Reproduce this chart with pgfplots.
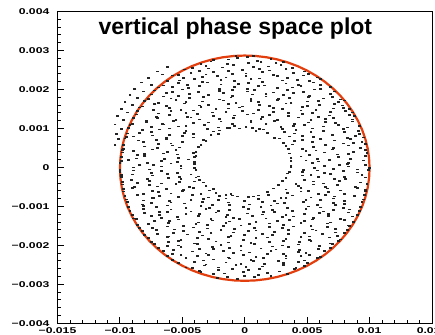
\documentclass[border=0pt]{standalone}
\usepackage{fontspec}
\setmainfont{Liberation Sans}
\newfontfamily\tickfont[FakeStretch=1.45]{Liberation Sans}
\usepackage{pgfplots}
\pgfplotsset{compat=1.18}
\definecolor{fitred}{RGB}{226,62,14}
\definecolor{dotc}{RGB}{35,35,35}
\begin{document}
\begin{tikzpicture}
\begin{axis}[
  at={(0,0)}, anchor=south west, scale only axis,
  width=374.5bp, height=311.8bp,
  xmin=-150, xmax=150, ymin=-400, ymax=400,
  xtick={-150,-100,-50,0,50,100,150},
  xticklabels={−0.015,−0.01,−0.005,0,0.005,0.01,0.015},
  ytick={-400,-300,-200,-100,0,100,200,300,400},
  yticklabels={−0.004,−0.003,−0.002,−0.001,0,0.001,0.002,0.003,0.004},
  minor x tick num=4, minor y tick num=4,
  tick align=inside, xtick pos=left, ytick pos=left,
  major tick length=6bp, minor tick length=3bp,
  every tick/.style={black, line width=0.9bp},
  axis line style={line width=1bp, black},
  tick label style={font=\tickfont\bfseries\fontsize{8.4bp}{9bp}\selectfont},
  yticklabel style={anchor=east, inner sep=0pt, xshift=-8bp},
  xticklabel style={anchor=north, inner sep=0pt, yshift=-4.5bp},
]
\addplot[only marks, mark=-, mark size=1.4bp, color=dotc, mark options={line width=1.7bp}] coordinates {
(-7,286) (2,283) (7,285)
(-25,276) (-13,277) (-6,280) (10,273) (21,278)
(-35,266) (-27,272) (-14,265) (3,268) (13,270) (25,267) (31,271)
(-42,255) (-31,261) (-18,256) (-9,263) (7,258) (19,259) (29,262) (38,255)
(-48,251) (-36,248) (-29,254) (-13,247) (-2,250) (12,252) (20,249) (33,253) (48,246)
(-53,237) (-43,243) (-31,238) (-25,245) (-10,240) (1,241) (14,244) (23,237) (39,242) (51,239)
(-58,236) (-49,229) (-34,232) (-22,234) (-15,231) (1,235) (12,228) (26,234) (34,229) (47,236) (58,231)
(-62,222) (-52,223) (-40,226) (-34,219) (-19,224) (-8,221) (5,227) (14,220) (30,223) (42,225) (52,222) (61,226)
(-65,210) (-53,216) (-46,211) (-30,218) (-19,213) (-5,214) (3,217) (16,210) (33,215) (43,212) (55,218) (61,211)
(-69,205) (-58,207) (-45,204) (-36,208) (-20,201) (-8,207) (2,202) (11,209) (26,204) (38,205) (45,208) (61,201) (69,206)
(-72,197) (-58,194) (-50,200) (-37,193) (-20,196) (-10,198) (2,195) (8,199) (23,192) (34,198) (47,193) (56,200) (72,195)
(-75,187) (-63,190) (-53,183) (-44,188) (-29,185) (-17,191) (-10,184) (6,187) (17,189) (31,186) (39,190) (52,183) (69,189)
(-77,175) (-65,182) (-59,177) (-44,178) (-33,181) (-20,174) (-11,179) (5,176) (17,182) (27,175) (36,178) (51,180) (63,177) (70,181) (77,174)
(-80,171) (-69,166) (-55,173) (-47,168) (-34,169) (-17,172) (-7,165) (5,170) (11,167) (26,173) (37,166) (50,169) (59,171) (75,168) (80,172)
(-82,156) (-72,162) (-63,157) (-48,164) (-36,159) (-29,160) (-13,163) (-2,156) (12,161) (20,158) (33,164) (50,157) (60,160) (72,162) (78,159)
(-84,154) (-73,147) (-60,153) (-51,148) (-35,155) (-23,150) (-13,151) (-4,154) (11,147) (23,152) (30,149) (46,155) (57,148) (71,151) (79,153) (84,150)
(-86,145) (-69,138) (-59,144) (-47,139) (-41,146) (-26,141) (-15,142) (-2,145) (7,138) (23,143) (35,140) (45,146) (54,139) (69,142) (81,144) (86,141)
(-87,136) (-71,129) (-60,135) (-46,130) (-38,137) (-25,132) (-8,133) (2,136) (14,129) (20,134) (35,131) (46,137) (59,130) (68,133) (84,135) (88,132)
(-89,127) (-79,120) (-70,126) (-55,121) (-43,128) (-36,123) (-20,124) (-9,127) (5,120) (13,125) (26,122) (43,128) (53,121) (65,124) (71,126) (86,123)
(-90,111) (-79,117) (-66,112) (-57,119) (-41,114) (-29,115) (-19,118) (-10,111) (5,116) (17,113) (24,119) (40,112) (51,115) (65,117) (73,114) (86,118)
(-92,108) (-75,103) (-65,110) (-53,105) (-47,106) (-32,109) (-21,102) (-8,107) (1,104) (17,110) (29,103) (39,106) (48,108) (63,105) (75,109) (82,102) (92,106)
(-14,101) (-4,100) (6,101) (12,99)
(-93,101) (-82,96) (-68,97) (-60,100) (-47,93) (-30,98) (-20,95) (-12,101) (9,94) (15,97) (30,99) (41,96) (54,100) (63,93) (79,99) (91,94)
(-94,87) (-84,88) (-75,91) (-60,84) (-48,89) (-41,86) (-25,92) (-21,85) (18,88) (32,90) (40,87) (53,91) (70,84) (80,90) (92,85)
(-95,78) (-89,79) (-74,82) (-63,75) (-50,80) (-41,77) (-27,83) (24,76) (36,79) (46,81) (55,78) (70,82) (82,75) (89,81) (95,77)
(-96,74) (-85,69) (-71,70) (-63,73) (-50,66) (-33,71) (-31,68) (28,74) (40,67) (46,70) (61,72) (72,69) (85,73) (94,66)
(-97,58) (-81,65) (-69,60) (-59,61) (-50,64) (-35,57) (31,62) (38,59) (54,65) (65,58) (79,61) (87,63) (97,60)
(-97,48) (-80,54) (-70,49) (-58,56) (-52,51) (-37,52) (33,55) (46,48) (55,53) (71,50) (83,56) (93,49)
(-98,45) (-89,42) (-74,46) (-62,39) (-55,45) (-39,40) (35,47) (49,42) (57,43) (70,46) (87,39) (97,44)
(-98,38) (-86,31) (-80,34) (-65,36) (-54,33) (-41,37) (-39,30) (36,36) (52,31) (64,38) (74,33) (83,34) (98,37)
(-99,26) (-87,23) (-80,29) (-64,22) (-53,25) (-40,27) (37,24) (45,28) (58,21) (75,27) (85,22) (97,29)
(-99,16) (-93,19) (-78,12) (-67,17) (-54,14) (-45,20) (-40,13) (37,16) (49,18) (59,15) (68,19) (83,12) (95,18)
(-100,11) (-84,6) (-73,7) (-59,10) (-51,3) (-40,8) (37,5) (54,11) (64,4) (76,7) (82,9) (97,6)
(-100,-6) (-89,0) (-76,-5) (-67,2) (-51,-3) (-40,-2) (37,1) (47,-6) (56,-1) (71,-4) (83,2) (90,-5) (100,-2)
(-100,-12) (-89,-8) (-75,-15) (-67,-9) (-54,-14) (-39,-7) (36,-12) (46,-11) (58,-8) (64,-15) (79,-10) (90,-13) (99,-7)
(-99,-20) (-90,-18) (-74,-21) (-62,-17) (-52,-24) (-43,-18) (-37,-23) (34,-16) (46,-21) (53,-20) (69,-17) (80,-24) (94,-19)
(-99,-25) (-91,-32) (-78,-29) (-61,-27) (-51,-30) (-39,-26) (-36,-33) (33,-27) (48,-32) (59,-25) (72,-30) (81,-29) (97,-26)
(-98,-37) (-86,-40) (-76,-34) (-67,-41) (-52,-38) (-40,-36) (-33,-39) (30,-35) (41,-42) (55,-36) (63,-41) (76,-34) (93,-39)
(-98,-44) (-88,-51) (-76,-46) (-70,-49) (-55,-43) (-44,-50) (-31,-47) (27,-45) (43,-48) (55,-44) (65,-51) (74,-45) (89,-50) (98,-43)
(-97,-56) (-90,-53) (-74,-60) (-63,-55) (-49,-58) (-41,-52) (-28,-59) (-25,-56) (23,-54) (33,-57) (45,-53) (51,-60) (66,-54) (77,-59) (90,-52) (97,-57)
(-97,-62) (-81,-69) (-69,-64) (-59,-67) (-50,-61) (-35,-68) (-23,-65) (18,-63) (34,-66) (45,-62) (59,-69) (67,-63) (80,-68) (97,-61)
(-15,-71) (-6,-75) (3,-76) (11,-72) (-11,-68)
(-96,-74) (-86,-71) (-74,-78) (-68,-73) (-53,-76) (-42,-70) (-29,-77) (-20,-74) (-10,-72) (7,-75) (19,-71) (29,-78) (38,-72) (53,-77) (65,-70) (72,-75) (88,-74) (96,-71)
(-95,-82) (-81,-85) (-73,-79) (-60,-86) (-43,-83) (-33,-81) (-21,-84) (-15,-80) (0,-87) (11,-81) (24,-86) (33,-79) (49,-84) (61,-83) (71,-80) (80,-87) (95,-82)
(-94,-88) (-82,-95) (-75,-92) (-59,-90) (-48,-93) (-34,-89) (-26,-96) (-13,-90) (4,-95) (14,-88) (26,-93) (32,-92) (47,-89) (58,-96) (71,-91) (80,-94) (94,-88)
(-93,-101) (-81,-99) (-71,-102) (-62,-98) (-47,-105) (-35,-99) (-28,-104) (-12,-97) (-1,-102) (13,-101) (21,-98) (34,-105) (51,-100) (61,-103) (73,-97) (79,-104) (93,-101)
(-92,-111) (-81,-107) (-68,-114) (-59,-108) (-43,-113) (-31,-106) (-21,-111) (-12,-110) (3,-107) (15,-114) (22,-109) (38,-112) (49,-106) (63,-113) (71,-110) (84,-108) (92,-111)
(-90,-123) (-80,-117) (-68,-122) (-62,-115) (-47,-120) (-36,-119) (-23,-116) (-14,-123) (2,-118) (14,-121) (24,-115) (33,-122) (48,-119) (60,-117) (67,-120) (83,-116) (90,-123)
(-89,-131) (-75,-124) (-67,-129) (-54,-128) (-37,-125) (-27,-132) (-15,-127) (-9,-130) (6,-124) (17,-131) (30,-128) (39,-126) (55,-129) (67,-125) (77,-132) (86,-126)
(-87,-133) (-72,-138) (-60,-137) (-53,-134) (-37,-141) (-26,-136) (-12,-139) (-4,-133) (9,-140) (26,-137) (36,-135) (48,-138) (54,-134) (69,-141) (80,-135) (87,-140)
(-86,-147) (-77,-146) (-61,-143) (-49,-150) (-39,-145) (-30,-148) (-15,-142) (-3,-149) (4,-146) (20,-144) (31,-147) (45,-143) (53,-150) (66,-144) (83,-149)
(-84,-156) (-74,-155) (-62,-152) (-56,-159) (-41,-154) (-30,-157) (-17,-151) (-8,-158) (8,-155) (20,-153) (30,-156) (39,-152) (54,-159) (66,-153) (73,-158) (84,-151)
(-82,-164) (-71,-161) (-57,-168) (-49,-163) (-36,-166) (-19,-160) (-9,-167) (3,-164) (9,-162) (24,-165) (35,-161) (48,-168) (57,-162) (73,-167) (82,-160)
(-80,-173) (-70,-170) (-61,-177) (-46,-172) (-34,-175) (-27,-169) (-11,-176) (0,-173) (14,-171) (22,-174) (35,-170) (52,-177) (62,-171) (74,-176) (80,-169)
(-77,-182) (-62,-179) (-51,-186) (-38,-181) (-29,-184) (-13,-178) (-1,-185) (9,-182) (18,-180) (33,-183) (45,-179) (52,-186) (68,-180) (77,-185)
(-75,-192) (-61,-191) (-53,-188) (-40,-195) (-23,-190) (-13,-193) (-1,-187) (5,-194) (20,-191) (31,-189) (44,-192) (53,-188) (69,-195) (75,-189)
(-72,-196) (-62,-201) (-53,-200) (-38,-197) (-26,-204) (-19,-199) (-3,-202) (8,-196) (22,-203) (30,-200) (43,-198) (60,-201) (70,-197)
(-69,-207) (-57,-212) (-51,-205) (-36,-210) (-25,-209) (-12,-206) (-3,-213) (13,-208) (25,-211) (35,-205) (44,-212) (59,-209) (69,-207)
(-65,-215) (-58,-222) (-42,-216) (-31,-221) (-17,-214) (-9,-219) (4,-218) (21,-215) (31,-222) (43,-217) (49,-220) (64,-214)
(-62,-227) (-51,-225) (-38,-228) (-29,-224) (-13,-231) (-1,-225) (9,-230) (18,-223) (33,-228) (45,-227) (52,-224) (61,-230)
(-58,-238) (-47,-232) (-33,-239) (-25,-236) (-12,-234) (5,-237) (15,-233) (27,-240) (33,-234) (48,-239) (58,-232)
(-53,-245) (-40,-242) (-31,-249) (-15,-244) (-3,-247) (7,-241) (16,-248) (31,-245) (43,-243) (50,-246)
(-47,-257) (-32,-252) (-21,-257) (-7,-250) (1,-255) (14,-254) (31,-251) (41,-258) (48,-253)
(-42,-259) (-36,-266) (-21,-263) (-10,-261) (3,-264) (12,-260) (28,-267) (40,-261)
(-35,-268) (-25,-273) (-16,-272) (-1,-269) (11,-276) (18,-271) (34,-274)
(-22,-283) (-14,-281) (0,-279) (8,-282) (21,-278) (-6,-287)
(-62,258) (-70,246) (-66,238) (-77,230) (-83,218) (-75,212) (-88,202) (-81,195) (-92,186) (-86,178)
(-96,168) (-90,160) (-99,150) (-94,141) (-102,132) (-97,121) (-104,110) (-99,98) (-103,86) (-101,72) (-104,58)
};
\addplot[fitred, line width=2.2bp, line join=round] coordinates {
(100,-2) (99.6,23.2) (98.5,48.2) (96.6,72.8) (94.0,96.8) (90.6,120.1) (86.6,142.5) (81.9,163.8) (76.6,183.8) (70.7,202.4) (64.3,219.4) (57.4,234.7) (50.0,248.3) (42.3,259.9) (34.2,269.6) (25.9,277.2) (17.4,282.6) (8.7,285.9) (0,287)
(-8.7,285.9) (-17.4,282.6) (-25.9,277.2) (-34.2,269.6) (-42.3,259.9) (-50.0,248.3) (-57.4,234.7) (-64.3,219.4) (-70.7,202.4) (-76.6,183.8) (-81.9,163.8) (-86.6,142.5) (-90.6,120.1) (-94.0,96.8) (-96.6,72.8) (-98.5,48.2) (-99.6,23.2) (-100,-2)
(-99.6,-27.2) (-98.5,-52.2) (-96.6,-76.8) (-94.0,-100.8) (-90.6,-124.1) (-86.6,-146.5) (-81.9,-167.8) (-76.6,-187.8) (-70.7,-206.4) (-64.3,-223.4) (-57.4,-238.7) (-50.0,-252.3) (-42.3,-263.9) (-34.2,-273.6) (-25.9,-281.2) (-17.4,-286.6) (-8.7,-289.9) (0,-291)
(8.7,-289.9) (17.4,-286.6) (25.9,-281.2) (34.2,-273.6) (42.3,-263.9) (50.0,-252.3) (57.4,-238.7) (64.3,-223.4) (70.7,-206.4) (76.6,-187.8) (81.9,-167.8) (86.6,-146.5) (90.6,-124.1) (94.0,-100.8) (96.6,-76.8) (98.5,-52.2) (99.6,-27.2) (100,-2)
};
\node[font=\bfseries\fontsize{23bp}{28bp}\selectfont, anchor=base, inner sep=0pt] at (axis cs:-7.5,340) {vertical phase space plot};
\end{axis}
\pgfresetboundingbox
\path[use as bounding box] (-57.5bp,-11.7bp) rectangle (377.5bp,323.3bp);
\end{tikzpicture}
\end{document}
